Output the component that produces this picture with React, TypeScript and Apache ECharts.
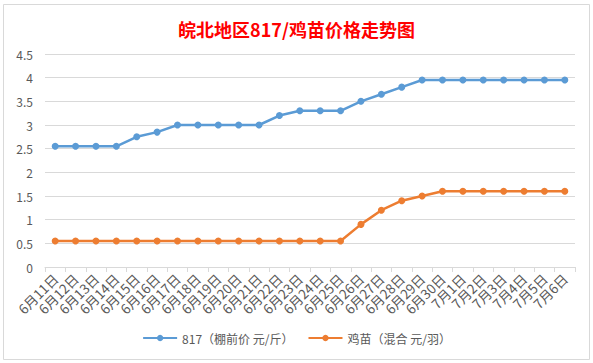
import React, { useEffect, useRef } from "react";
import * as echarts from "echarts";

const categories = [
  "6月11日", "6月12日", "6月13日", "6月14日", "6月15日", "6月16日", "6月17日",
  "6月18日", "6月19日", "6月20日", "6月21日", "6月22日", "6月23日", "6月24日",
  "6月25日", "6月26日", "6月27日", "6月28日", "6月29日", "6月30日",
  "7月1日", "7月2日", "7月3日", "7月4日", "7月5日", "7月6日",
];

const price817 = [
  2.55, 2.55, 2.55, 2.55, 2.75, 2.85, 3.0, 3.0, 3.0, 3.0, 3.0, 3.2, 3.3, 3.3,
  3.3, 3.5, 3.65, 3.8, 3.95, 3.95, 3.95, 3.95, 3.95, 3.95, 3.95, 3.95,
];

const chickPrice = [
  0.55, 0.55, 0.55, 0.55, 0.55, 0.55, 0.55, 0.55, 0.55, 0.55, 0.55, 0.55, 0.55,
  0.55, 0.55, 0.9, 1.2, 1.4, 1.5, 1.6, 1.6, 1.6, 1.6, 1.6, 1.6, 1.6,
];

const seriesNames = ["817（棚前价 元/斤）", "鸡苗（混合 元/羽）"];
const titleText = "皖北地区817/鸡苗价格走势图";

export default function App() {
  const ref = useRef<HTMLDivElement>(null);
  useEffect(() => {
    if (!ref.current) return;
    const chart = echarts.init(ref.current, undefined, { renderer: "svg" });
    const font = "'Noto Sans CJK SC', 'Microsoft YaHei', sans-serif";
    chart.setOption({
      animation: false,
      backgroundColor: "#ffffff",
      textStyle: { fontFamily: font },
      title: {
        text: titleText,
        left: "center",
        top: 15,
        textStyle: { color: "#ff0000", fontSize: 18, fontWeight: "bold", fontFamily: font },
      },
      graphic: [
        {
          type: "rect",
          shape: { x: 3.5, y: 4.5, width: 586, height: 355 },
          style: { fill: "none", stroke: "#d9d9d9", lineWidth: 1 },
        },
      ],
      legend: {
        bottom: 14,
        left: "center",
        itemWidth: 34,
        itemHeight: 8,
        itemGap: 14,
        textStyle: { color: "#595959", fontSize: 12, fontFamily: font },
        data: seriesNames,
      },
      grid: { left: 45, right: 18, top: 54, bottom: 96 },
      xAxis: {
        type: "category",
        data: categories,
        boundaryGap: true,
        axisLine: { lineStyle: { color: "#d9d9d9" } },
        axisTick: { show: true, alignWithLabel: false, length: 5, lineStyle: { color: "#d9d9d9" } },
        axisLabel: {
          interval: 0,
          rotate: 45,
          color: "#595959",
          fontSize: 13.5,
          margin: 9,
          fontFamily: font,
        },
      },
      yAxis: {
        type: "value",
        min: 0,
        max: 4.5,
        interval: 0.5,
        axisLine: { show: false },
        axisTick: { show: false },
        axisLabel: { color: "#595959", fontSize: 12, margin: 12, fontFamily: font },
        splitLine: { lineStyle: { color: "#d9d9d9" } },
      },
      series: [
        {
          name: seriesNames[0],
          type: "line",
          data: price817,
          symbol: "circle",
          symbolSize: 7,
          itemStyle: { color: "#5b9bd5" },
          lineStyle: { width: 2.5, color: "#5b9bd5" },
        },
        {
          name: seriesNames[1],
          type: "line",
          data: chickPrice,
          symbol: "circle",
          symbolSize: 7,
          itemStyle: { color: "#ed7d31" },
          lineStyle: { width: 2.5, color: "#ed7d31" },
        },
      ],
    });
    return () => chart.dispose();
  }, []);
  return (
    <div
      ref={ref}
      style={{ position: "absolute", left: 0, top: 0, width: 593, height: 363 }}
    />
  );
}
